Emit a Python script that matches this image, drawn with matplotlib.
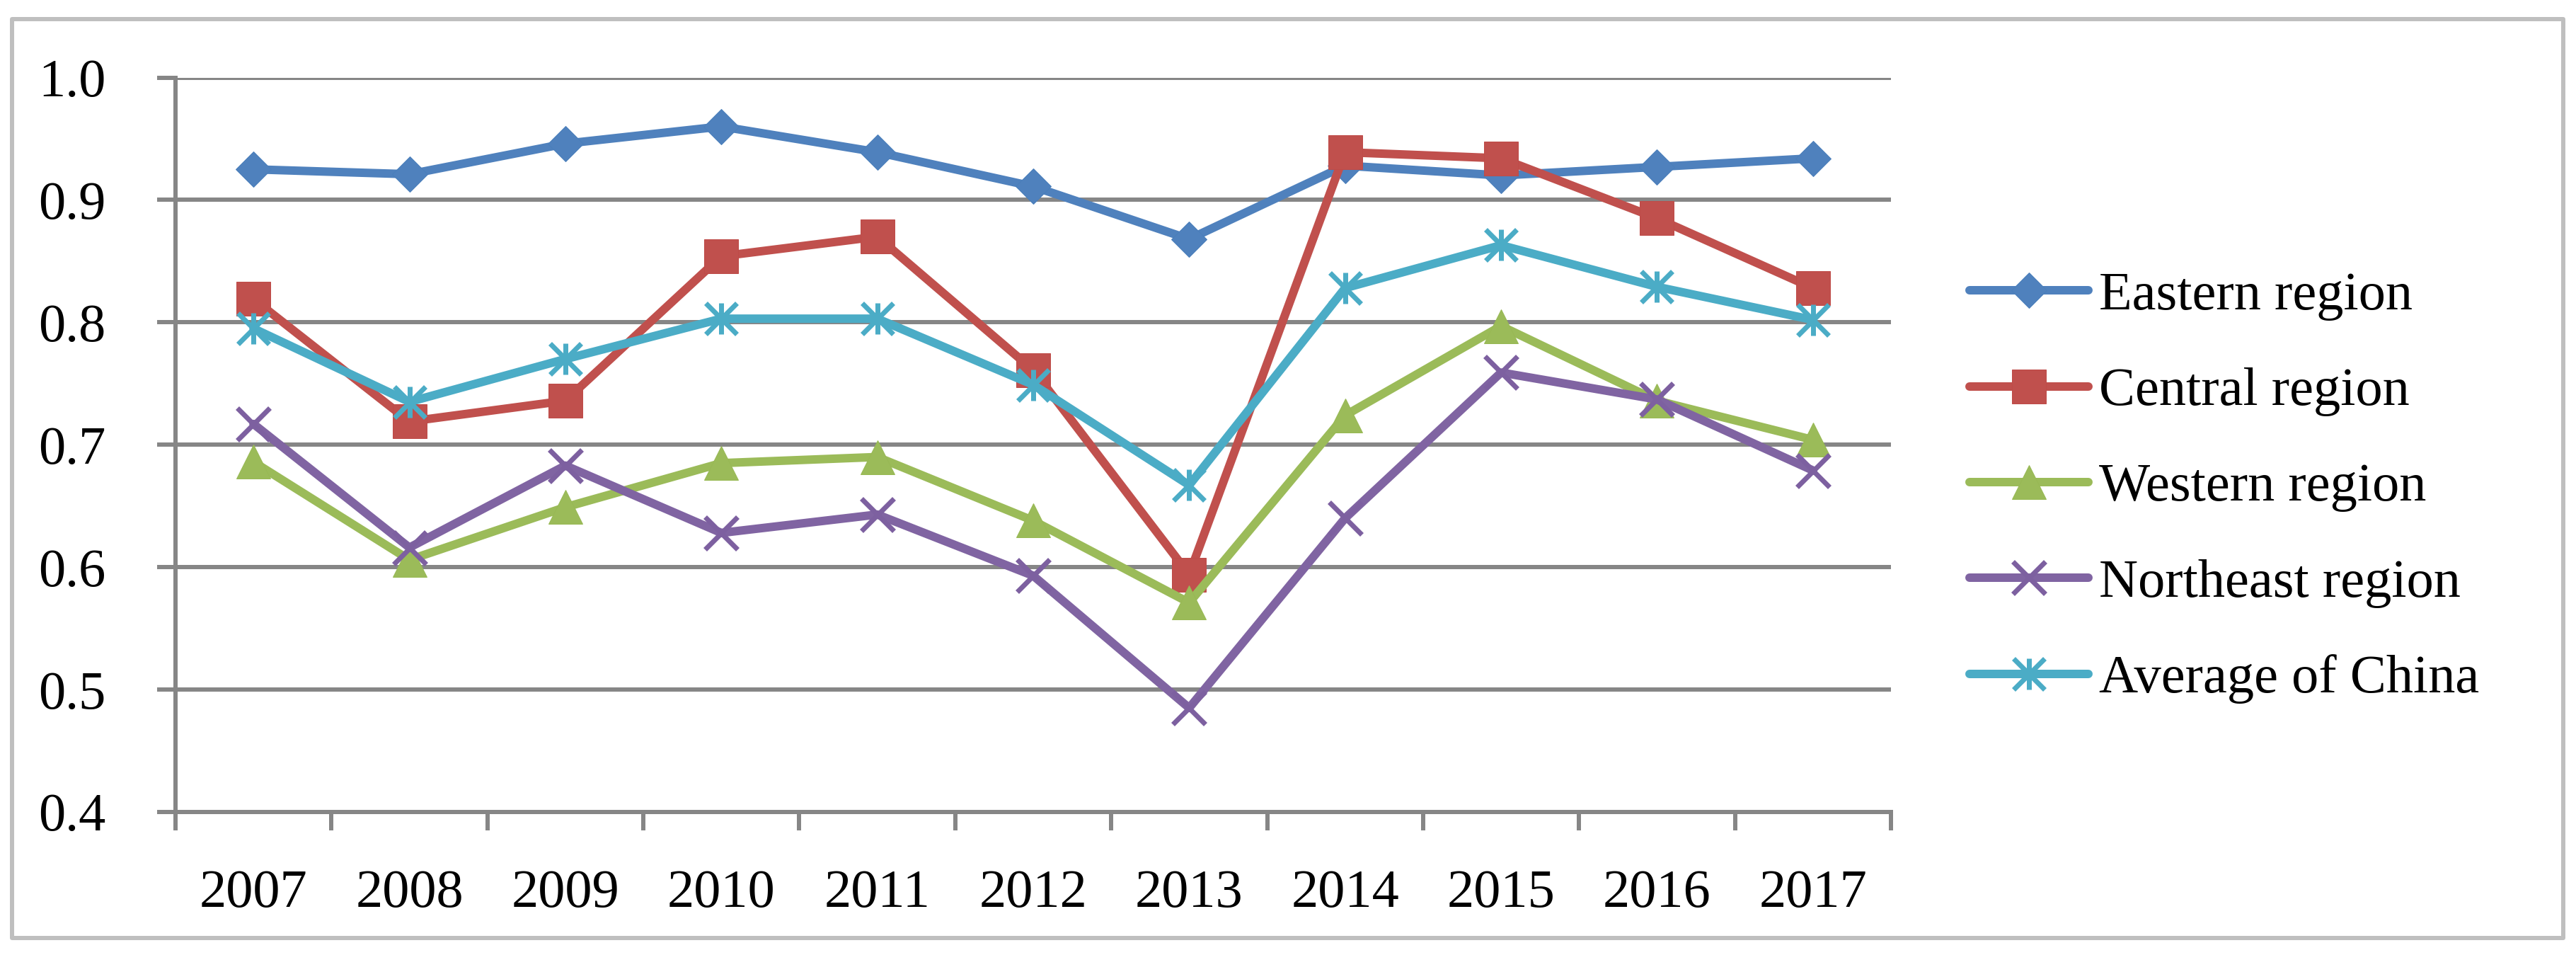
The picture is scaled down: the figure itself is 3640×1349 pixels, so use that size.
import matplotlib
matplotlib.use("Agg")
import matplotlib.pyplot as plt
from matplotlib.path import Path
from matplotlib.patches import Rectangle
import numpy as np

years = ["2007", "2008", "2009", "2010", "2011", "2012", "2013", "2014", "2015", "2016", "2017"]
eastern = [0.925, 0.921, 0.946, 0.960, 0.939, 0.911, 0.868, 0.928, 0.920, 0.927, 0.934]
central = [0.819, 0.719, 0.736, 0.854, 0.870, 0.761, 0.594, 0.939, 0.934, 0.885, 0.828]
western = [0.686, 0.606, 0.649, 0.685, 0.690, 0.638, 0.571, 0.724, 0.797, 0.736, 0.704]
northeast = [0.717, 0.616, 0.683, 0.628, 0.643, 0.593, 0.485, 0.640, 0.759, 0.737, 0.679]
average = [0.795, 0.735, 0.770, 0.803, 0.803, 0.749, 0.667, 0.828, 0.863, 0.829, 0.802]
series_names = ["Eastern region", "Central region", "Western region", "Northeast region", "Average of China"]
yticks = [0.4, 0.5, 0.6, 0.7, 0.8, 0.9, 1.0]

DPI = 200
W, H = 3640, 1349
px = 72.0 / DPI  # points per pixel

plt.rcParams['font.family'] = ['Liberation Serif', 'DejaVu Serif']
FS = 27.5

fig = plt.figure(figsize=(W / DPI, H / DPI), dpi=DPI)
fig.patch.set_facecolor('white')

# outer frame
frame = Rectangle((17 / W, 1 - 1325 / H), (3622 - 17) / W, (1325 - 27) / H,
                  transform=fig.transFigure, fill=False, edgecolor='#BFBFBF',
                  linewidth=6 * px, joinstyle='round', zorder=0)
fig.patches.append(frame)

left, right = 248 / W, 2672 / W
top, bottom = 1 - 109.5 / H, 1 - 1147 / H
ax = fig.add_axes([left, bottom, right - left, top - bottom])

grid_c = '#868686'
glw = 6 * px

x = np.arange(len(years))

asterisk = Path([(0, -1), (0, 1), (-1, -1), (1, 1), (-1, 1), (1, -1)],
                [Path.MOVETO, Path.LINETO, Path.MOVETO, Path.LINETO, Path.MOVETO, Path.LINETO])

styles = [
    dict(color='#4F81BD', marker='D', markersize=35 * px, mec='#4A7EBB', mew=1 * px),
    dict(color='#C0504D', marker='s', markersize=48 * px, mec='#BE4B48', mew=1 * px),
    dict(color='#9BBB59', marker='^', markersize=48 * px, mec='#98B954', mew=1 * px),
    dict(color='#8064A2', marker='x', markersize=46 * px, mec='#7D60A0', mew=7 * px),
    dict(color='#4BACC6', marker=asterisk, markersize=44 * px, mec='#4BACC6', mew=7 * px,
         mfc='none'),
]
data = [eastern, central, western, northeast, average]

for i, (vals, name, st) in enumerate(zip(data, series_names, styles)):
    ax.plot(x, vals, label=name, linewidth=12 * px, solid_joinstyle='round',
            solid_capstyle='round', zorder=3 + i, clip_on=False, **st)

ax.set_xlim(-0.5, len(years) - 0.5)
ax.set_ylim(0.4, 1.0)

ax.set_xticks(np.arange(-0.5, len(years), 1.0))
ax.set_xticklabels([])
ax.set_xticks(x, minor=True)
ax.set_xticklabels(years, minor=True)
ax.tick_params(axis='x', which='major', direction='out', length=26 * px, width=glw,
               color=grid_c)
ax.tick_params(axis='x', which='minor', length=0, pad=29, labelsize=FS)

ax.set_yticks(yticks)
ax.set_yticklabels([f"{v:.1f}" for v in yticks])
ax.tick_params(axis='y', direction='out', length=26 * px, width=glw, color=grid_c,
               pad=26, labelsize=FS)

ax.grid(axis='y', color=grid_c, linewidth=glw, zorder=1)
ax.set_axisbelow(True)
for s in ['top', 'right']:
    ax.spines[s].set_visible(False)
for s in ['left', 'bottom']:
    ax.spines[s].set_color(grid_c)
    ax.spines[s].set_linewidth(glw)

leg = fig.legend(loc='center left', bbox_to_anchor=(2783 / W, 1 - 689 / H),
                 frameon=False, fontsize=FS, handlelength=2.2, handletextpad=0.2,
                 labelspacing=0.86, borderpad=0, borderaxespad=0)

fig.savefig("out.png", dpi=DPI, facecolor='white')
